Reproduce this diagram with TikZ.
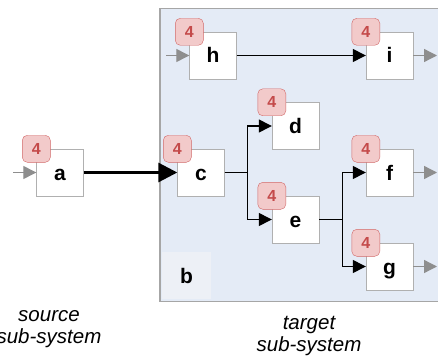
\documentclass[tikz,border=0pt]{standalone}
\usepackage{fontspec}
\setmainfont{Liberation Sans}
\usetikzlibrary{arrows.meta}
\definecolor{sysfill}{HTML}{E4EBF6}
\definecolor{sysline}{HTML}{A6A6A6}
\definecolor{bfill}{HTML}{EDF0F6}
\definecolor{boxline}{HTML}{B0B0B0}
\definecolor{badgefill}{HTML}{F2CACA}
\definecolor{badgeline}{HTML}{D26868}
\definecolor{badgetext}{HTML}{C44A4A}
\definecolor{feedgray}{HTML}{8E8E8E}
\begin{document}
\begin{tikzpicture}[x=1pt, y=-1pt, >={Triangle[length=13pt,width=13pt]}]
\tikzstyle{every node}=[font=\bfseries\fontsize{21}{21}\selectfont]
\tikzstyle{block}=[draw=boxline,fill=white,minimum size=47pt,inner sep=0pt,text height=15pt,text depth=0pt]
\tikzstyle{badge}=[draw=badgeline,fill=badgefill,rounded corners=5pt,minimum width=28pt,minimum height=27pt,inner sep=0pt,text=badgetext,text height=11pt,text depth=0pt,font=\bfseries\fontsize{16}{16}\selectfont]
\tikzstyle{feed}=[draw=feedgray,line width=1.3pt,-{Triangle[length=13pt,width=13pt]}]
\tikzstyle{caption}=[align=center,font=\itshape\fontsize{20.5}{22.5}\selectfont]
\useasboundingbox (0,0) rectangle (438,358);
\clip (0,0) rectangle (438,358);
% target sub-system
\draw[draw=sysline,fill=sysfill,line width=1.2pt] (160,8.5) rectangle (470,301.5);
\node[fill=bfill,minimum width=49pt,minimum height=47pt,inner sep=0pt,text height=15pt,text depth=0pt](b) at (186.5,275.5) {b};
% blocks
\node[block](a) at (60,172.5) {a};
\node[block](c) at (201,172.5) {c};
\node[block](d) at (295.5,126) {d};
\node[block](e) at (295.5,219.5) {e};
\node[block](f) at (389.5,172.5) {f};
\node[block](g) at (389.5,266.5) {g};
\node[block](h) at (213,55.5) {h};
\node[block](i) at (389.5,55.5) {i};
% badges
\node[badge](ba) at (a.north west) {4};
\node[badge](bc) at (c.north west) {4};
\node[badge](bd) at (d.north west) {4};
\node[badge](be) at (e.north west) {4};
\node[badge](bf) at (f.north west) {4};
\node[badge](bg) at (g.north west) {4};
\node[badge](bh) at (h.north west) {4};
\node[badge](bi) at (i.north west) {4};
% connections
\draw[line width=3pt,-{Triangle[length=19pt,width=19pt]}] (a.east) -- (c.west);
\draw[->,line width=1.3pt] (h.east) -- (i.west);
\draw[->,line width=1.3pt] (c.east) -- ++(23,0) |- (d.west);
\draw[->,line width=1.3pt] (c.east) -- ++(23,0) |- (e.west);
\draw[->,line width=1.3pt] (e.east) -- ++(23,0) |- (f.west);
\draw[->,line width=1.3pt] (e.east) -- ++(23,0) |- (g.west);
% feeds in and out
\coordinate (ain) at (13,172.5);
\coordinate (hin) at (166,55.5);
\coordinate (iout) at (437,55.5);
\coordinate (fout) at (437,172.5);
\coordinate (gout) at (437,266.5);
\draw[feed] (ain) -- (a.west);
\draw[feed] (hin) -- (h.west);
\draw[feed] (i.east) -- (iout);
\draw[feed] (f.east) -- (fout);
\draw[feed] (g.east) -- (gout);
% captions
\node[caption](src) at (49,329) {source\\sub-system};
\node[caption](tgt) at (309,336) {target\\sub-system};
\end{tikzpicture}
\end{document}
